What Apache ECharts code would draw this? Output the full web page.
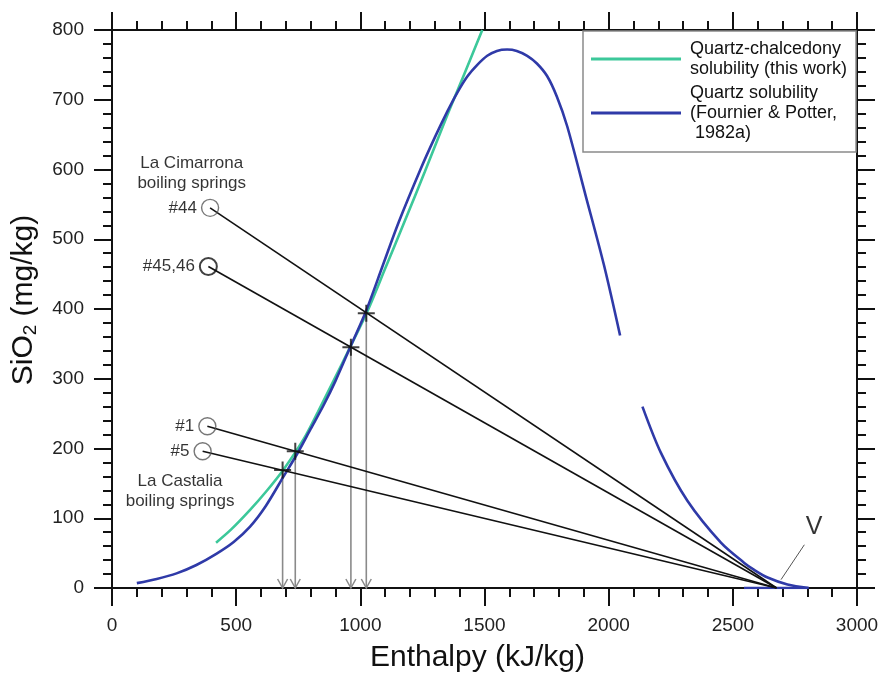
<!DOCTYPE html>
<html>
<head>
<meta charset="utf-8">
<script src="https://cdn.jsdelivr.net/npm/echarts@6/dist/echarts.min.js"></script>
<style>
  html, body { margin: 0; padding: 0; background: #ffffff; }
  #chart { width: 884px; height: 678px; }
</style>
</head>
<body>
<div id="chart"></div>
<script>
// Quartz-chalcedony solubility curve (enthalpy kJ/kg, SiO2 mg/kg)
const chalcedonyH   = [419, 480, 556, 620, 691, 771, 830, 892, 960, 1030, 1100, 1181, 1260, 1356, 1420, 1491];
const chalcedonySi  = [65,  84,  112, 138, 170, 213, 253, 297, 346, 398,  458,  528,  597,  683,  738,  800];

// Quartz solubility (Fournier & Potter, 1982a) - liquid branch
const quartzH  = [100, 180, 260, 340, 420, 490, 556, 620, 691, 750, 800, 852, 900, 960, 1024, 1090, 1154, 1242, 1300, 1350, 1390, 1430, 1471, 1511, 1550, 1591, 1630, 1672, 1711, 1752, 1792, 1833, 1907, 1981, 2046];
const quartzSi = [7,   13,  21,  33,  49,  66,  88,  118, 160, 195, 228, 262, 297, 346, 398,  462,  524,  600,  646,  683,  710,  733,  750,  763,  770,  772,  770,  763,  752,  734,  704,  662,  563,  463,  362];
// Quartz solubility - vapour branch
const quartzVapH  = [2136, 2210, 2317, 2452, 2546, 2586, 2640, 2720, 2805];
const quartzVapSi = [260,  194,  125,  65,   36,   26,   15,   5,    0];
const quartzTailH  = [2545, 2805];
const quartzTailSi = [0, 0];

// Boiling springs: measured enthalpy and silica
const springNames = ['#44', '#45,46', '#1', '#5'];
const springH  = [395, 388, 384, 365];
const springSi = [545, 461, 232, 196];
// Intersections of the mixing lines with the solubility curve
const reservoirH  = [1024, 962, 738, 687];
const reservoirSi = [394, 345, 196, 169];
// Steam end-member
const vapourH = 2676;
const vapourSi = 0;

const xTicks = { min: 0, max: 3000, interval: 500 };
const yTicks = { min: 0, max: 800, interval: 100 };

const greenName = 'Quartz-chalcedony solubility (this work)';
const blueName  = 'Quartz solubility (Fournier & Potter, 1982a)';
const legendText = {};
legendText[greenName] = 'Quartz-chalcedony\nsolubility (this work)';
legendText[blueName]  = 'Quartz solubility\n(Fournier & Potter,\n 1982a)';

const FONT = 'Liberation Sans, Arial, sans-serif';
const GREEN = '#3cc89a';
const BLUE  = '#2f3aa8';
const ARROW = 'path://M0,0 L5,9 L10,0';
const PLUS  = 'path://M0,5 L10,5 M5,0 L5,10';

const zip = (xs, ys) => xs.map((x, i) => [x, ys[i]]);

function axisCommon(extra) {
  return Object.assign({
    type: 'value',
    axisLine: { show: true, onZero: false, lineStyle: { color: '#111', width: 2 } },
    axisTick: { show: true, inside: false, length: 18, lineStyle: { color: '#111', width: 2 } },
    minorTick: { show: true, splitNumber: 5, length: 9, lineStyle: { color: '#111', width: 2 } },
    splitLine: { show: false },
    minorSplitLine: { show: false }
  }, extra);
}

const series = [];

series.push({
  name: greenName, type: 'line', data: zip(chalcedonyH, chalcedonySi),
  showSymbol: false, smooth: 0.3, lineStyle: { color: GREEN, width: 2.6 }, itemStyle: { color: GREEN }, z: 3
});
series.push({
  name: blueName, type: 'line', data: zip(quartzH, quartzSi),
  showSymbol: false, smooth: 0.3, lineStyle: { color: BLUE, width: 2.6 }, itemStyle: { color: BLUE }, z: 3
});
series.push({
  name: blueName, type: 'line', data: zip(quartzVapH, quartzVapSi),
  showSymbol: false, smooth: 0.3, lineStyle: { color: BLUE, width: 2.6 }, itemStyle: { color: BLUE }, z: 3
});
series.push({
  name: blueName, type: 'line', data: zip(quartzTailH, quartzTailSi),
  showSymbol: false, lineStyle: { color: BLUE, width: 2.6 }, itemStyle: { color: BLUE }, z: 3
});

// Mixing lines from each spring to the steam end-member
springNames.forEach((n, i) => {
  series.push({
    type: 'line', data: [[springH[i], springSi[i]], [vapourH, vapourSi]],
    showSymbol: false, lineStyle: { color: '#111', width: 1.6 }, z: 4, silent: true
  });
});

// Drop lines from the intersections down to the enthalpy axis
springNames.forEach((n, i) => {
  series.push({
    type: 'line',
    data: [
      { value: [reservoirH[i], reservoirSi[i]], symbol: 'none' },
      { value: [reservoirH[i], 0], symbol: ARROW, symbolSize: [10, 9], symbolOffset: [0, '-50%'] }
    ],
    showSymbol: true, showAllSymbol: true,
    lineStyle: { color: '#8a8a8a', width: 1.6 },
    itemStyle: { color: 'rgba(0,0,0,0)', borderColor: '#8a8a8a', borderWidth: 1.4 },
    z: 2, silent: true
  });
});

// Intersection crosses
series.push({
  type: 'scatter', data: zip(reservoirH, reservoirSi),
  symbol: PLUS, symbolSize: 17,
  itemStyle: { color: 'rgba(0,0,0,0)', borderColor: '#111', borderWidth: 2 },
  z: 6, silent: true
});

// Spring circles with labels
series.push({
  type: 'scatter',
  data: springNames.map((n, i) => ({
    name: n, value: [springH[i], springSi[i]],
    itemStyle: n === '#45,46' ? { borderColor: '#111', borderWidth: 2 } : undefined
  })),
  symbol: 'circle', symbolSize: 17,
  itemStyle: { color: 'rgba(0,0,0,0)', borderColor: '#555', borderWidth: 1.4 },
  label: { show: true, position: 'left', distance: 4, formatter: p => p.name, fontFamily: FONT, fontSize: 17, color: '#000' },
  z: 7, silent: true
});

// Group annotations and the steam point label
series.push({
  type: 'scatter', symbolSize: 0, silent: true, z: 8,
  data: [
    { value: [321, 595], name: 'La Cimarrona\nboiling springs' },
    { value: [274, 139], name: 'La Castalia\nboiling springs' }
  ],
  label: { show: true, position: 'inside', formatter: p => p.name, fontFamily: FONT, fontSize: 17, lineHeight: 20, color: '#000', align: 'center' }
});
series.push({
  type: 'scatter', symbolSize: 0, silent: true, z: 8,
  data: [{ value: [2827, 87], name: 'V' }],
  label: { show: true, position: 'inside', formatter: 'V', fontFamily: FONT, fontSize: 25, color: '#000' }
});
series.push({
  type: 'line', data: [[2694, 12], [2788, 62]], showSymbol: false, silent: true,
  lineStyle: { color: '#555', width: 1 }, z: 5
});

const plainNumber = v => String(v);

const option = {
  animation: false,
  backgroundColor: '#ffffff',
  textStyle: { fontFamily: FONT },
  grid: { left: 112, right: 27, top: 30, bottom: 90, containLabel: false },
  legend: {
    left: 583, top: 31, orient: 'vertical',
    data: [{ name: greenName, icon: 'rect' }, { name: blueName, icon: 'rect' }],
    itemWidth: 90, itemHeight: 3, itemGap: 4,
    padding: [8, 9, 9, 8],
    backgroundColor: '#ffffff', borderColor: '#8a8a8a', borderWidth: 1.5, borderRadius: 0,
    formatter: n => legendText[n],
    textStyle: { fontFamily: FONT, fontSize: 18, lineHeight: 20, color: '#111', padding: [0, 0, 0, 4] },
    selectedMode: false
  },
  xAxis: [
    axisCommon(Object.assign({}, xTicks, {
      position: 'bottom',
      axisLabel: { fontFamily: FONT, fontSize: 19, color: '#222', margin: 28, formatter: plainNumber },
      name: 'Enthalpy (kJ/kg)', nameLocation: 'middle', nameGap: 55,
      nameTextStyle: { fontFamily: FONT, fontSize: 30, color: '#111', padding: [0, 14, 0, 0] }
    })),
    axisCommon(Object.assign({}, xTicks, { position: 'top', axisLabel: { show: false } }))
  ],
  yAxis: [
    axisCommon(Object.assign({}, yTicks, {
      position: 'left',
      axisLabel: { fontFamily: FONT, fontSize: 19, color: '#222', margin: 28, formatter: plainNumber },
      name: '{a|SiO}{b|2}{a| (mg/kg)}', nameLocation: 'middle', nameGap: 72,
      nameTextStyle: {
        padding: [0, 0, 0, 18],
        rich: {
          a: { fontFamily: FONT, fontSize: 30, color: '#111', lineHeight: 32 },
          b: { fontFamily: FONT, fontSize: 19, color: '#111', lineHeight: 20, verticalAlign: 'bottom' }
        }
      }
    })),
    axisCommon(Object.assign({}, yTicks, { position: 'right', axisLabel: { show: false } }))
  ],
  series: series
};

const chart = echarts.init(document.getElementById('chart'), null, { renderer: 'canvas' });
chart.setOption(option);
</script>
</body>
</html>
